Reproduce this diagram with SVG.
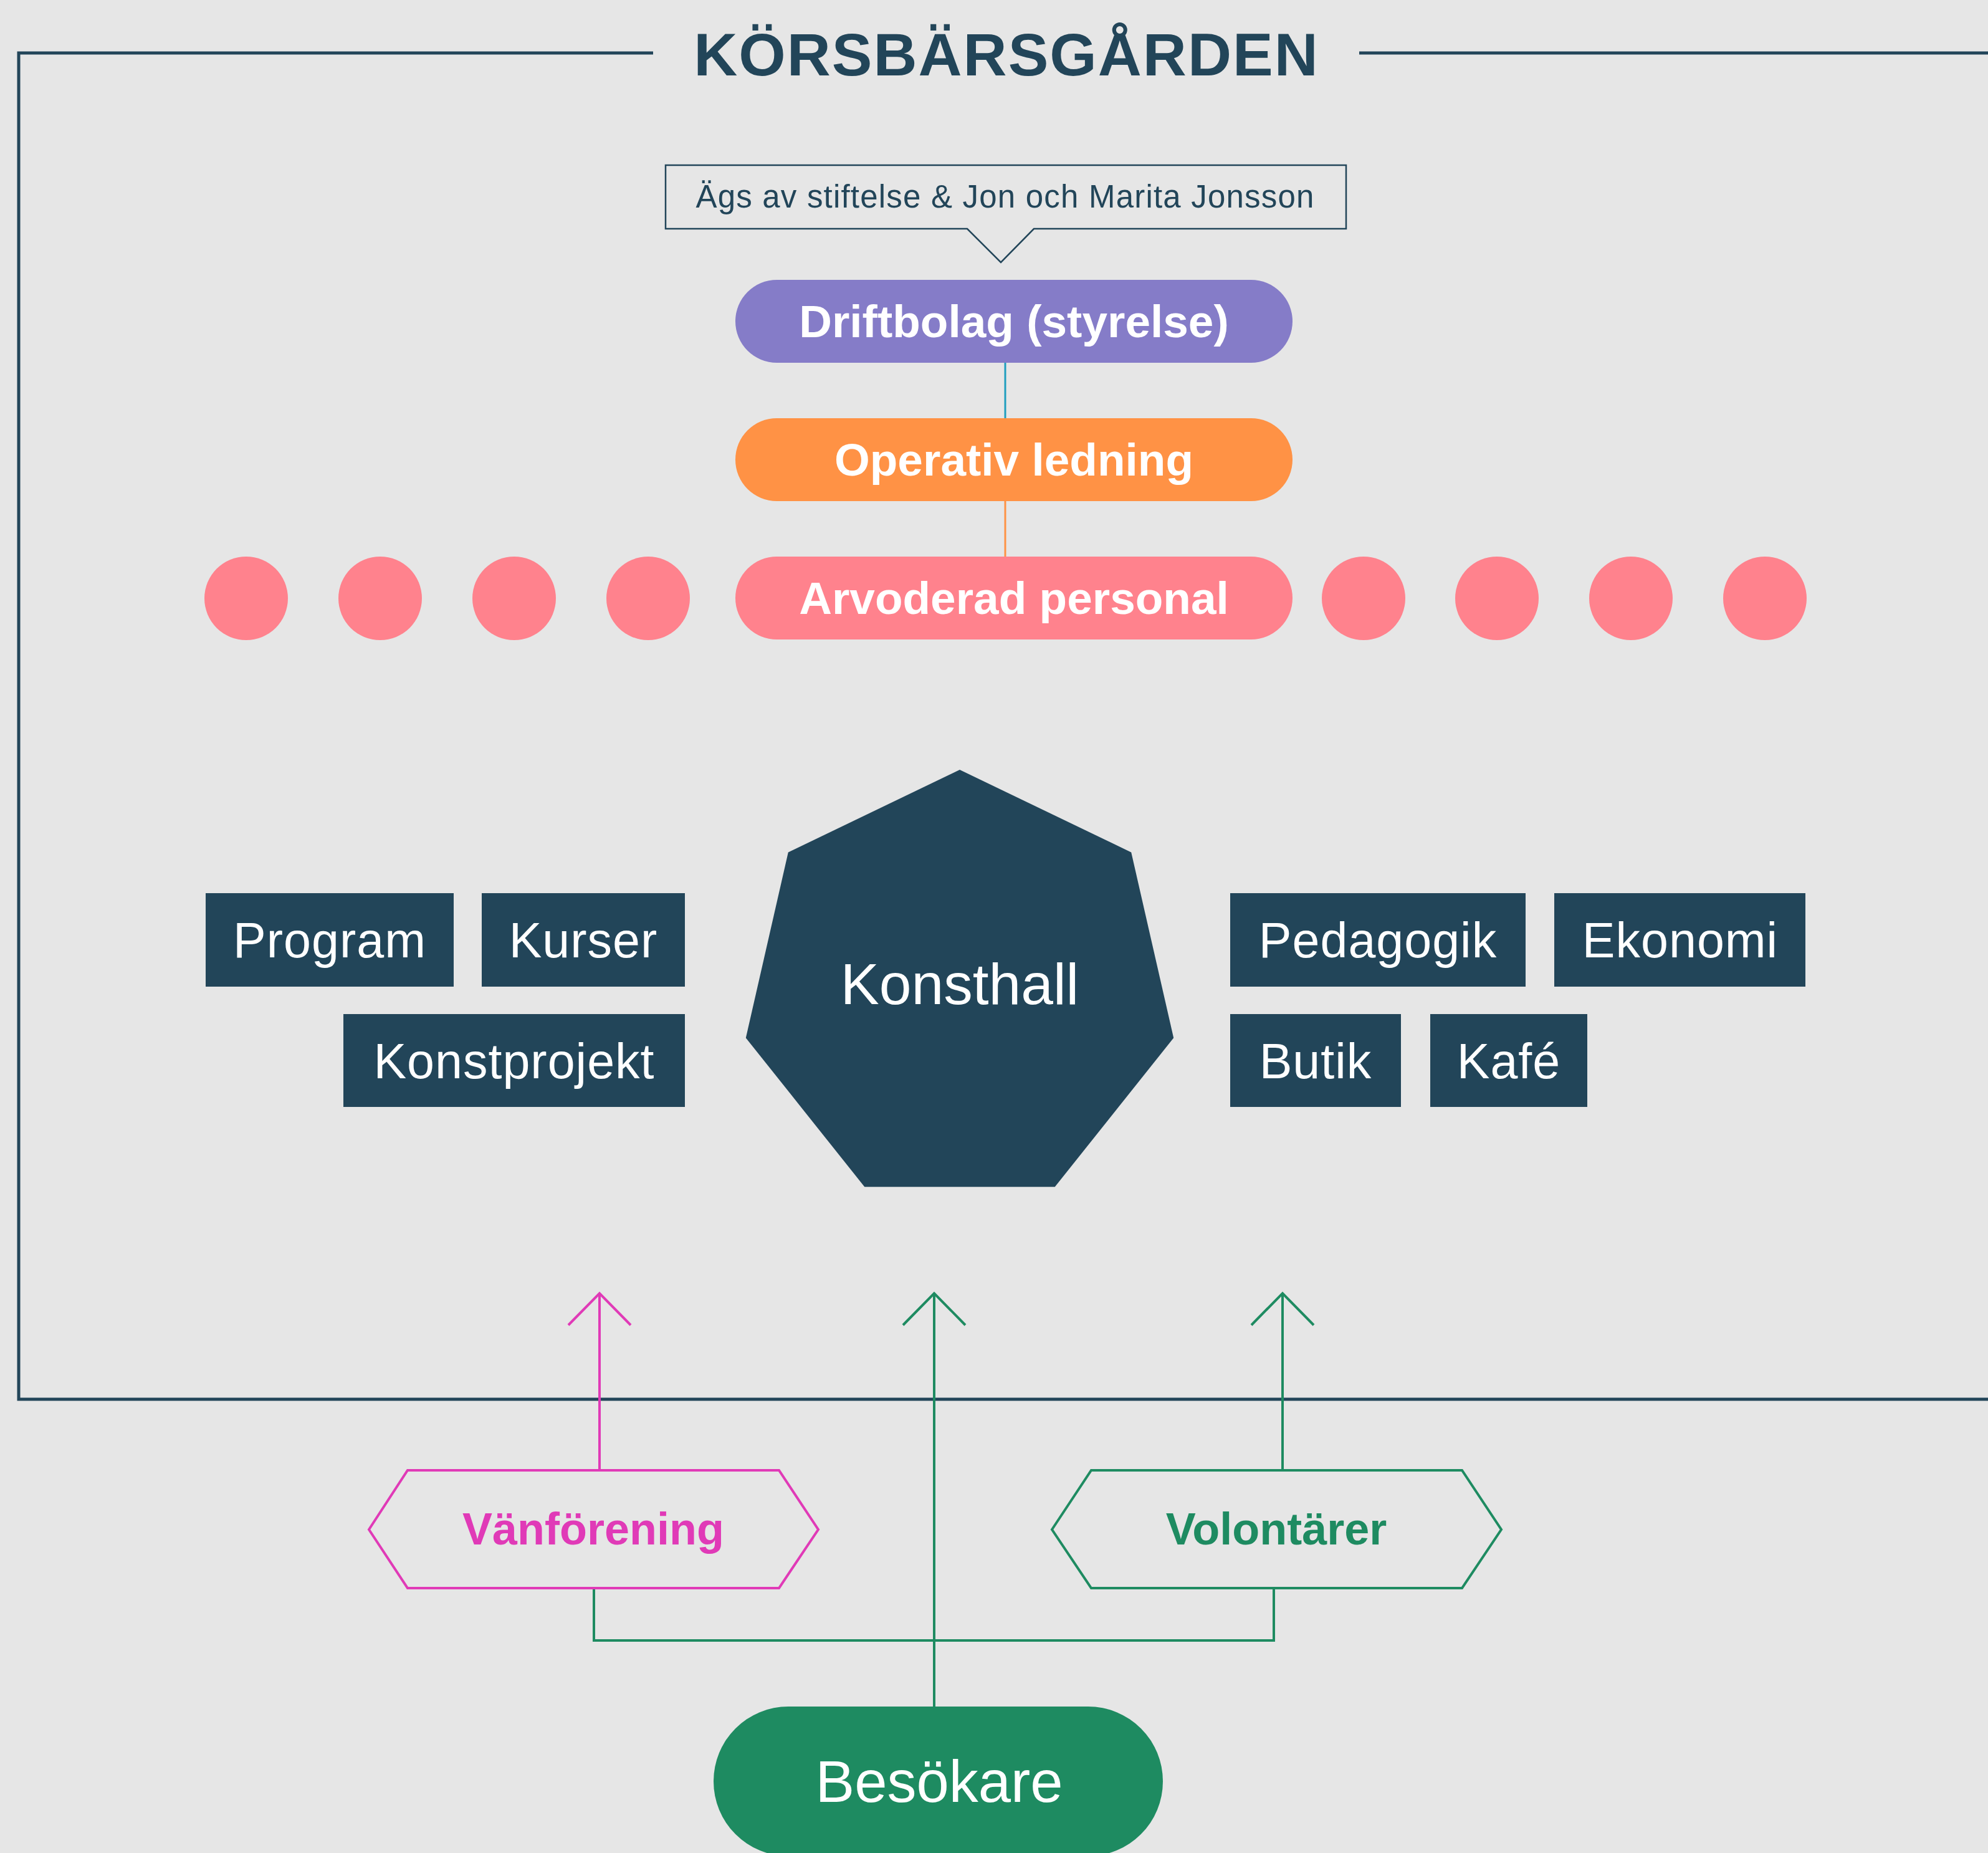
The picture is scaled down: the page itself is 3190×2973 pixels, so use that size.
<svg xmlns="http://www.w3.org/2000/svg" width="3190" height="2973" viewBox="0 0 3190 2973">
  <defs>
    <style>
      text { font-family: "Liberation Sans", Arial, Helvetica, sans-serif; text-anchor: middle; }
      .title { font-size: 97px; font-weight: bold; fill: #224559; letter-spacing: 2px; }
      .note { font-size: 51px; fill: #224559; letter-spacing: 1.2px; }
      .pilltxt { font-size: 73px; font-weight: bold; fill: #ffffff; }
      .box { fill: #224559; }
      .boxtxt { font-size: 79px; fill: #ffffff; letter-spacing: 1px; }
      .dot { fill: #ff828d; }
      .hex { fill: none; stroke-width: 4; stroke-linejoin: miter; }
      .hextxt { font-size: 72px; font-weight: bold; }
      .line { fill: none; stroke-width: 4; }
    </style>
    <marker id="arrowM" markerUnits="userSpaceOnUse" markerWidth="120" markerHeight="120" refX="0" refY="0" orient="auto" overflow="visible">
      <path d="M-51,-50 L0,0 L-51,50" fill="none" stroke="#e03ab7" stroke-width="4"/>
    </marker>
    <marker id="arrowG" markerUnits="userSpaceOnUse" markerWidth="120" markerHeight="120" refX="0" refY="0" orient="auto" overflow="visible">
      <path d="M-51,-50 L0,0 L-51,50" fill="none" stroke="#1e8b61" stroke-width="4"/>
    </marker>
  </defs>

  <rect x="0" y="0" width="3190" height="2973" fill="#e6e6e6"/>

  <g id="frame">
    <path d="M1048,85 H30 V2245 H3300 V85 H2181" fill="none" stroke="#224559" stroke-width="5"/>
    <text class="title" x="1615" y="121">KÖRSBÄRSGÅRDEN</text>
  </g>

  <g id="connectors">
    <line x1="1613" y1="582" x2="1613" y2="671" stroke="#1f9fbf" stroke-width="3"/>
    <line x1="1613" y1="804" x2="1613" y2="893" stroke="#ff9245" stroke-width="3"/>
    <line class="line" x1="962" y1="2359" x2="962" y2="2075" stroke="#e03ab7" marker-end="url(#arrowM)"/>
    <line class="line" x1="1499" y1="2738" x2="1499" y2="2075" stroke="#1e8b61" marker-end="url(#arrowG)"/>
    <line class="line" x1="2058" y1="2359" x2="2058" y2="2075" stroke="#1e8b61" marker-end="url(#arrowG)"/>
    <path class="line" d="M953,2548 V2632 H2044 V2548" stroke="#1e8b61"/>
  </g>

  <g id="owner-note">
    <path d="M1068,265 H2160 V367 H1659 L1606,421 L1552,367 H1068 Z" fill="none" stroke="#224559" stroke-width="2.5"/>
    <text class="note" x="1613" y="333">Ägs av stiftelse &amp; Jon och Marita Jonsson</text>
  </g>

  <g id="driftbolag">
    <rect x="1180" y="449" width="894" height="133" rx="66.5" fill="#857cc8"/>
    <text class="pilltxt" x="1627" y="541">Driftbolag (styrelse)</text>
  </g>

  <g id="operativ-ledning">
    <rect x="1180" y="671" width="894" height="133" rx="66.5" fill="#ff9245"/>
    <text class="pilltxt" x="1627" y="763">Operativ ledning</text>
  </g>

  <g id="arvoderad-personal">
    <rect x="1180" y="893" width="894" height="133" rx="66.5" fill="#ff828d"/>
    <text class="pilltxt" x="1627" y="985">Arvoderad personal</text>
  </g>

  <g id="staff-dots">
    <circle class="dot" cx="395" cy="960" r="67"/>
    <circle class="dot" cx="610" cy="960" r="67"/>
    <circle class="dot" cx="825" cy="960" r="67"/>
    <circle class="dot" cx="1040" cy="960" r="67"/>
    <circle class="dot" cx="2188" cy="960" r="67"/>
    <circle class="dot" cx="2402" cy="960" r="67"/>
    <circle class="dot" cx="2617" cy="960" r="67"/>
    <circle class="dot" cx="2832" cy="960" r="67"/>
  </g>

  <g id="konsthall">
    <polygon points="1540,1235 1815.2,1367.5 1883.2,1665.3 1692.7,1904.2 1387.3,1904.2 1196.8,1665.3 1264.8,1367.5" fill="#224559"/>
    <text x="1540" y="1611" style="font-size:93px;fill:#ffffff">Konsthall</text>
  </g>

  <g id="program">
    <rect class="box" x="330" y="1433" width="398" height="150"/>
    <text class="boxtxt" x="529" y="1536">Program</text>
  </g>
  <g id="kurser">
    <rect class="box" x="773" y="1433" width="326" height="150"/>
    <text class="boxtxt" x="936" y="1536">Kurser</text>
  </g>
  <g id="konstprojekt">
    <rect class="box" x="551" y="1627" width="548" height="149"/>
    <text class="boxtxt" x="825" y="1730">Konstprojekt</text>
  </g>
  <g id="pedagogik">
    <rect class="box" x="1974" y="1433" width="474" height="150"/>
    <text class="boxtxt" x="2211" y="1536">Pedagogik</text>
  </g>
  <g id="ekonomi">
    <rect class="box" x="2494" y="1433" width="403" height="150"/>
    <text class="boxtxt" x="2696" y="1536">Ekonomi</text>
  </g>
  <g id="butik">
    <rect class="box" x="1974" y="1627" width="274" height="149"/>
    <text class="boxtxt" x="2111" y="1730">Butik</text>
  </g>
  <g id="kafe">
    <rect class="box" x="2295" y="1627" width="252" height="149"/>
    <text class="boxtxt" x="2421" y="1730">Kafé</text>
  </g>

  <g id="vanforening">
    <polygon class="hex" points="592,2454 654,2359 1250,2359 1313,2454 1250,2548 654,2548" stroke="#e03ab7"/>
    <text class="hextxt" x="952" y="2478" fill="#e03ab7">Vänförening</text>
  </g>

  <g id="volontarer">
    <polygon class="hex" points="1688,2454 1751,2359 2346,2359 2409,2454 2346,2548 1751,2548" stroke="#1e8b61"/>
    <text class="hextxt" x="2048" y="2478" fill="#1e8b61">Volontärer</text>
  </g>

  <g id="besokare">
    <rect x="1145" y="2738" width="721" height="240" rx="120" fill="#1e8b61"/>
    <text x="1507" y="2891" style="font-size:94px;fill:#ffffff">Besökare</text>
  </g>
</svg>
